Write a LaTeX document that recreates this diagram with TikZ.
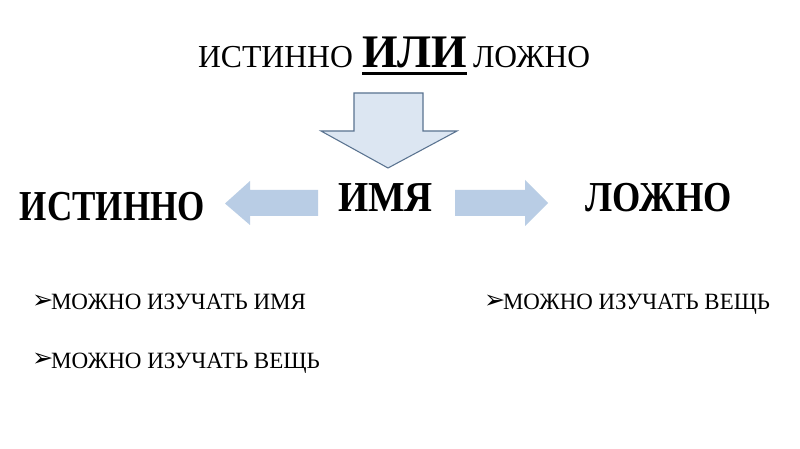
\documentclass[tikz,border=0pt]{standalone}
\usepackage{fontspec}
\setmainfont{Liberation Serif}
\newfontfamily\symfont{DejaVu Sans}
\usepackage{graphicx}
\definecolor{arrowfill}{HTML}{B9CDE5}
\definecolor{downfill}{HTML}{DCE6F2}
\definecolor{downline}{HTML}{5A7390}
\newcommand{\fitw}[2]{\resizebox{#1}{\height}{#2}}
\begin{document}
\begin{tikzpicture}[x=0.75pt,y=-0.75pt,
  txt/.style={inner sep=0pt,outer sep=0pt,anchor=base west},
  titlereg/.style={txt,font=\fontsize{24pt}{24pt}\selectfont},
  titlebold/.style={txt,font=\fontsize{35pt}{35pt}\selectfont\bfseries},
  rowbold/.style={txt,font=\fontsize{32pt}{32pt}\selectfont\bfseries},
  bullettext/.style={txt,font=\fontsize{17.5pt}{17.5pt}\selectfont},
  bulletmark/.style={txt,font=\fontsize{19pt}{19pt}\selectfont\symfont},
  blockarrow/.style={fill=arrowfill,draw=none},
  downarrow/.style={fill=downfill,draw=downline,line width=0.8pt,line join=miter}]
\useasboundingbox[fill=white] (0,0) rectangle (800,449);

% title
\node[titlereg] (t1) at (198,68) {\fitw{116.25pt}{ИСТИННО}};
\node[titlebold] (t2) at (362,68) {\fitw{78.75pt}{ИЛИ}};
\node[titlereg] (t3) at (473,68) {\fitw{87.75pt}{ЛОЖНО}};
\draw[line width=2.3pt] (t2.south west |- 0,73.5) -- (t2.south east |- 0,73.5);

% down arrow
\draw[downarrow] (354,93) -- (423,93) -- (423,131) -- (457,131) -- (388,168)
  -- (321,131) -- (354,131) -- cycle;

% middle row
\node[rowbold] (ist) at (20,221) {\fitw{138.75pt}{ИСТИННО}};
\node[rowbold] (imya) at (338,212) {\fitw{71.25pt}{ИМЯ}};
\node[rowbold] (lozh) at (585,212) {\fitw{110.25pt}{ЛОЖНО}};

\fill[blockarrow] (318,190) -- (318,216) -- (250,216) -- (250,225) -- (225,203.5)
  -- (250,181) -- (250,190) -- cycle;
\fill[blockarrow] (455,190) -- (525,190) -- (525,180) -- (548,203) -- (525,226)
  -- (525,216) -- (455,216) -- cycle;

% bullets
\node[bulletmark] (b1m) at (32,308) {➢};
\node[bullettext] (b1) at (51,310) {\fitw{191.25pt}{МОЖНО ИЗУЧАТЬ ИМЯ}};
\node[bulletmark] (b2m) at (32,366) {➢};
\node[bullettext] (b2) at (51,368) {\fitw{201.75pt}{МОЖНО ИЗУЧАТЬ ВЕЩЬ}};
\node[bulletmark] (b3m) at (484,308) {➢};
\node[bullettext] (b3) at (503,310) {\fitw{200.25pt}{МОЖНО ИЗУЧАТЬ ВЕЩЬ}};
\end{tikzpicture}
\end{document}
